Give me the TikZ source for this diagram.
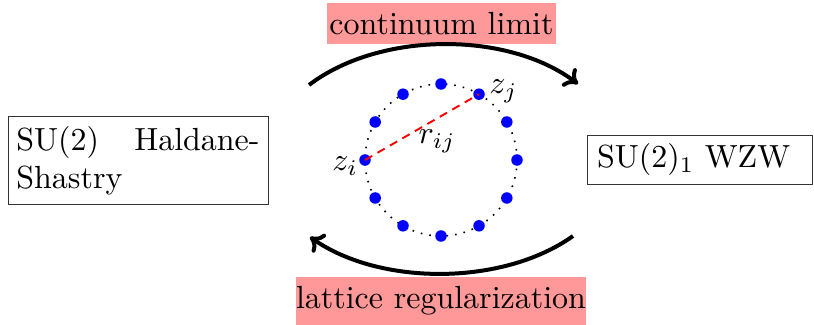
\documentclass[tikz,border=0pt]{standalone}
\usetikzlibrary{arrows.meta,calc}
\begin{document}
\begin{tikzpicture}[x=0.3125pt,y=-0.3125pt,
  pinkbox/.style={fill=red!40,inner sep=0pt,anchor=center},
  framebox/.style={draw=black!80,line width=0.3pt,align=left,anchor=center,inner ysep=0pt},
  bigarrow/.style={line width=1.25pt,-{To[length=4pt,width=7pt]}},
  site/.style={circle,fill=blue,inner sep=0pt,minimum size=3.6pt},
  lbl/.style={inner sep=1pt}]
\useasboundingbox (0,0) rectangle (814,325);
% boxes
\node[framebox,minimum width=81.25pt,minimum height=27.2pt,text width=76pt,inner xsep=2.6pt] (hs) at (138,160.5) {SU(2)\hfill Haldane-\\Shastry};
\node[framebox,minimum width=70.3pt,minimum height=15.6pt,text width=64pt,inner xsep=3.1pt] (wzw) at (699.5,160) {SU(2)$_1$ WZW};
% labels
\node[pinkbox,minimum width=71.6pt,minimum height=12.8pt] (cl) at (441.5,23.5) {continuum limit};
\node[pinkbox,minimum width=89.4pt,minimum height=15pt] (lr) at (441,301) {lattice regularization};
% arrows
\coordinate (t1) at (309,85);
\coordinate (t2) at (578,84);
\coordinate (b1) at (573,236);
\coordinate (b2) at (310,237);
\draw[bigarrow] (t1) .. controls (380,31) and (508,31) .. (t2);
\draw[bigarrow] (b1) .. controls (503,286) and (380,286) .. (b2);
% circle
\coordinate (c) at (441,160);
\draw[line width=0.5pt,dash pattern=on 0.5pt off 2.2pt] (c) circle[radius=76];
\foreach \k in {0,...,11}{
  \node[site] (s\k) at ($(c)+(\k*30:76 and -76)$) {};
}
\draw[red,line width=0.6pt,dash pattern=on 2.6pt off 1.9pt] (s6.center) -- (s2.center);
\node[lbl,anchor=east] (zi) at ([xshift=1pt,yshift=-2pt]s6.west) {$z_i$};
\node[lbl,anchor=west] (zj) at ([xshift=0pt,yshift=1pt]s2.east) {$z_j$};
\node[lbl] (rij) at (437,141) {$r_{ij}$};
\end{tikzpicture}
\end{document}
